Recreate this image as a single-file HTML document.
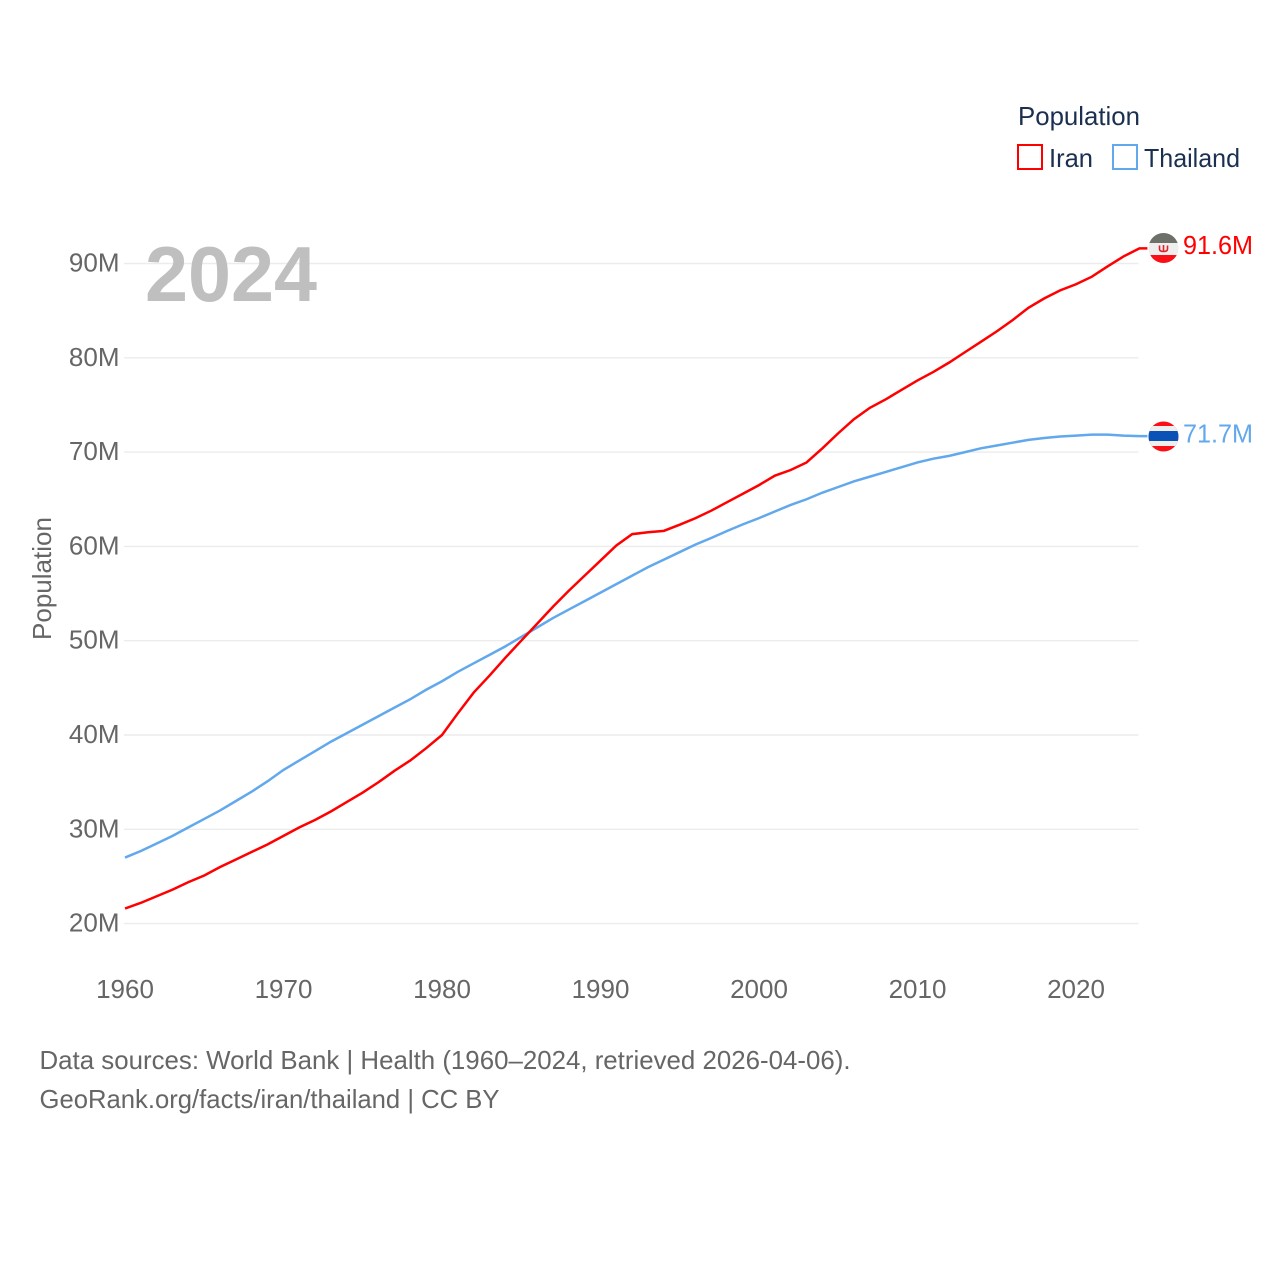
<!DOCTYPE html>
<html lang="en">
<head>
<meta charset="utf-8">
<title>Iran and Thailand population</title>
<style>
  html, body { margin: 0; padding: 0; background: #fff; }
  svg { display: block; font-family: "Liberation Sans", sans-serif; }
</style>
</head>
<body>
<svg id="chart" width="1280" height="1280" viewBox="0 0 1280 1280" xmlns="http://www.w3.org/2000/svg">
  <defs>
    <clipPath id="clip-iran"><circle cx="1163.5" cy="248" r="15"></circle></clipPath>
    <clipPath id="clip-thai"><circle cx="1163.5" cy="436.5" r="15"></circle></clipPath>
  </defs>
  <rect x="0" y="0" width="1280" height="1280" fill="#ffffff"></rect>
  <g id="grid"></g>
  <text x="145" y="301" font-size="78" font-weight="700" fill="#bfbfbf" textLength="172" lengthAdjust="spacingAndGlyphs">2024</text>
  <g id="y-axis"></g>
  <g id="x-axis"></g>
  <text transform="translate(51 578.5) rotate(-90)" text-anchor="middle" font-size="26" fill="#666666" textLength="123" lengthAdjust="spacingAndGlyphs">Population</text>
  <g id="series"></g>

  <g clip-path="url(#clip-iran)">
    <rect x="1148" y="233" width="31" height="10" fill="#6d7068"></rect>
    <rect x="1148" y="243" width="31" height="12" fill="#eeeeee"></rect>
    <rect x="1148" y="255" width="31" height="9" fill="#fb0f16"></rect>
    <path d="M1159.5 245.5v3.5q0 2.5 4 2.5t4-2.5v-3.5M1163.5 245v7" fill="none" stroke="#e0232a" stroke-width="1.6"></path>
  </g>
  <g clip-path="url(#clip-thai)">
    <rect x="1148" y="421" width="31" height="31" fill="#fb0f16"></rect>
    <rect x="1148" y="426" width="31" height="20" fill="#eeeeee"></rect>
    <rect x="1148" y="431" width="31" height="10" fill="#0a52b5"></rect>
  </g>
  <text x="1183" y="254" font-size="26" fill="#ff0000" textLength="70" lengthAdjust="spacingAndGlyphs">91.6M</text>
  <text x="1183" y="442.5" font-size="26" fill="#62a8ec" textLength="70" lengthAdjust="spacingAndGlyphs">71.7M</text>

  <g>
    <text x="1018" y="125" font-size="26" fill="#1b3050" textLength="122" lengthAdjust="spacingAndGlyphs">Population</text>
    <rect x="1018" y="145" width="24" height="24" fill="none" stroke="#ff0000" stroke-width="2"></rect>
    <text x="1049" y="167" font-size="26" fill="#1b3050" textLength="44" lengthAdjust="spacingAndGlyphs">Iran</text>
    <rect x="1113" y="145" width="24" height="24" fill="none" stroke="#62a8ec" stroke-width="2"></rect>
    <text x="1144" y="167" font-size="26" fill="#1b3050" textLength="96" lengthAdjust="spacingAndGlyphs">Thailand</text>
  </g>

  <text x="39.5" y="1069" font-size="26" fill="#666666" textLength="811" lengthAdjust="spacingAndGlyphs">Data sources: World Bank | Health (1960–2024, retrieved 2026-04-06).</text>
  <text x="39.5" y="1108" font-size="26" fill="#666666" textLength="460" lengthAdjust="spacingAndGlyphs">GeoRank.org/facts/iran/thailand | CC BY</text>
</svg>
<script>
const years = [1960,1961,1962,1963,1964,1965,1966,1967,1968,1969,1970,1971,1972,1973,1974,1975,1976,1977,1978,1979,1980,1981,1982,1983,1984,1985,1986,1987,1988,1989,1990,1991,1992,1993,1994,1995,1996,1997,1998,1999,2000,2001,2002,2003,2004,2005,2006,2007,2008,2009,2010,2011,2012,2013,2014,2015,2016,2017,2018,2019,2020,2021,2022,2023,2024];
const iranPopulation = [21.6,22.2,22.9,23.6,24.4,25.1,26.0,26.8,27.6,28.4,29.3,30.2,31.0,31.9,32.9,33.9,35.0,36.2,37.3,38.6,40.0,42.3,44.5,46.3,48.2,50.0,51.8,53.6,55.3,56.9,58.5,60.1,61.3,61.5,61.65,62.3,63.0,63.8,64.7,65.6,66.5,67.5,68.1,68.9,70.4,72.0,73.5,74.7,75.6,76.6,77.6,78.5,79.5,80.6,81.7,82.8,84.0,85.3,86.3,87.15,87.8,88.6,89.7,90.75,91.6];
const thailandPopulation = [27.0,27.7,28.5,29.3,30.2,31.1,32.0,33.0,34.0,35.1,36.3,37.3,38.3,39.3,40.2,41.1,42.0,42.9,43.8,44.8,45.7,46.7,47.6,48.5,49.4,50.4,51.4,52.4,53.3,54.2,55.1,56.0,56.9,57.8,58.6,59.4,60.2,60.9,61.65,62.35,63.0,63.7,64.4,65.0,65.7,66.3,66.9,67.4,67.9,68.4,68.9,69.3,69.6,70.0,70.4,70.7,71.0,71.3,71.5,71.65,71.75,71.85,71.85,71.75,71.7];
const yTicks = [20,30,40,50,60,70,80,90];
const xTicks = [1960,1970,1980,1990,2000,2010,2020];

const SVG_NS = 'http://www.w3.org/2000/svg';
function xScale(year) { return 125 + (year - 1960) * 15.85; }
function yScale(value) { return 923.6 - (value - 20) * 9.43; }
function make(tag, parent) {
  const el = document.createElementNS(SVG_NS, tag);
  parent.appendChild(el);
  return el;
}

const gridGroup = document.getElementById('grid');
const yGroup = document.getElementById('y-axis');
yTicks.forEach(function (tick) {
  const line = make('line', gridGroup);
  
  
  line.setAttribute('x1', 124);
  line.setAttribute('x2', 1138.5);
  line.setAttribute('y1', yScale(tick));
  line.setAttribute('y2', yScale(tick));
  line.setAttribute('stroke', '#ececec');
  line.setAttribute('stroke-width', 1.4);
  const label = make('text', yGroup);
  
  
  label.setAttribute('x', 119.5);
  label.setAttribute('y', yScale(tick) + 8);
  label.setAttribute('text-anchor', 'end');
  label.setAttribute('font-size', 26);
  label.setAttribute('fill', '#666666');
  label.textContent = tick + 'M';
});

const xGroup = document.getElementById('x-axis');
xTicks.forEach(function (tick) {
  const label = make('text', xGroup);
  
  
  label.setAttribute('x', xScale(tick));
  label.setAttribute('y', 998);
  label.setAttribute('text-anchor', 'middle');
  label.setAttribute('font-size', 26);
  label.setAttribute('fill', '#666666');
  label.textContent = tick;
});

function linePoints(values) {
  const pts = values.map(function (v, i) { return xScale(years[i]).toFixed(2) + ',' + yScale(v).toFixed(2); });
  const last = values[values.length - 1];
  pts.push((xScale(years[years.length - 1]) + 8).toFixed(2) + ',' + yScale(last).toFixed(2));
  return pts.join(' ');
}
const seriesGroup = document.getElementById('series');

const thaiLine = make('polyline', seriesGroup);


thaiLine.setAttribute('points', linePoints(thailandPopulation));
thaiLine.setAttribute('fill', 'none');
thaiLine.setAttribute('stroke', '#62a8ec');
thaiLine.setAttribute('stroke-width', 2.5);

const iranLine = make('polyline', seriesGroup);


iranLine.setAttribute('points', linePoints(iranPopulation));
iranLine.setAttribute('fill', 'none');
iranLine.setAttribute('stroke', '#ff0000');
iranLine.setAttribute('stroke-width', 2.5);
</script>
</body>
</html>
